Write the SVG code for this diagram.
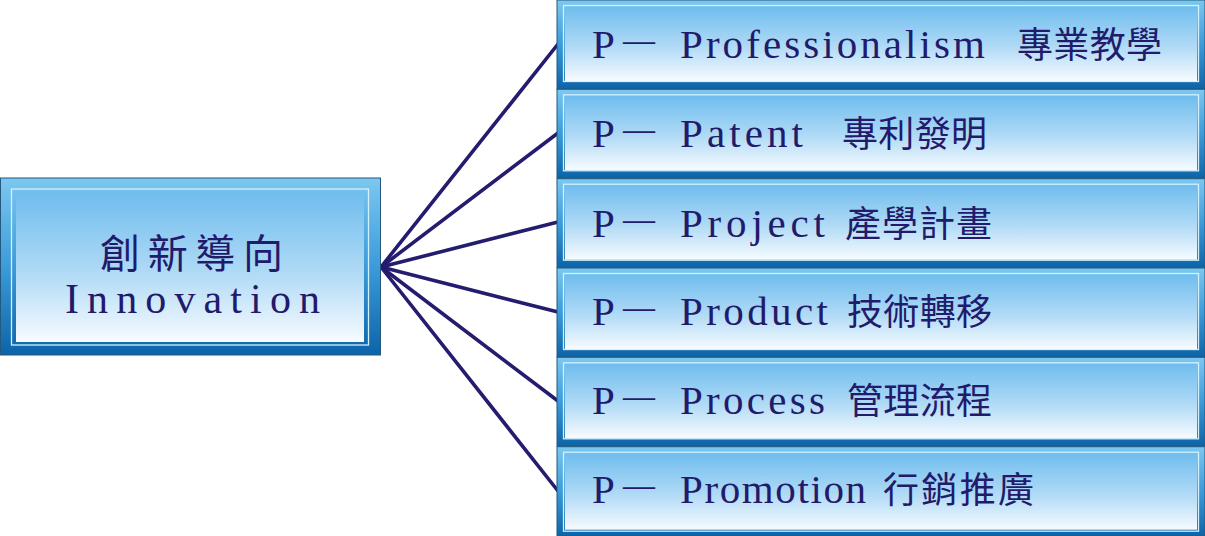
<svg xmlns="http://www.w3.org/2000/svg" width="1205" height="536" viewBox="0 0 1205 536">
<defs>
<linearGradient id="gOuter" x1="0" y1="0" x2="0" y2="1">
<stop offset="0" stop-color="#7cc8f0"/>
<stop offset="0.5" stop-color="#3c9bd9"/>
<stop offset="1" stop-color="#0c64a8"/>
</linearGradient>
<linearGradient id="gInner" x1="0" y1="0" x2="0" y2="1">
<stop offset="0" stop-color="#70bdee"/>
<stop offset="0.55" stop-color="#b2dbf6"/>
<stop offset="1" stop-color="#f7fbff"/>
</linearGradient>
<style>
.outer{fill:url(#gOuter);stroke:#24587e;stroke-width:1}
.hl{fill:none;stroke:#d2f0fd;stroke-width:1.3}
.inner{fill:url(#gInner)}
.lat{font-family:"Liberation Serif",serif;font-size:41px;fill:#221a6a}
.cjk{font-family:"Noto Sans CJK TC","Noto Sans CJK SC",sans-serif;font-size:36px;fill:#221a6a}
.dash{font-family:"Liberation Serif",serif;font-size:36px;fill:#221a6a}
.conn{stroke:#241c6e;stroke-width:3.6;fill:none;stroke-linecap:round}
</style>
</defs>
<rect width="1205" height="536" fill="#ffffff"/>
<g id="connectors">
<line class="conn" x1="381" y1="267" x2="558" y2="44"/>
<line class="conn" x1="381" y1="267" x2="558" y2="133"/>
<line class="conn" x1="381" y1="267" x2="558" y2="222"/>
<line class="conn" x1="381" y1="267" x2="558" y2="312"/>
<line class="conn" x1="381" y1="267" x2="558" y2="401"/>
<line class="conn" x1="381" y1="267" x2="558" y2="491"/>
</g>
<g id="innovation">
<rect class="outer" x="0.5" y="178" width="380" height="177"/>
<rect class="hl" x="11.5" y="189" width="357" height="156"/>
<rect class="inner" x="16" y="193" width="348" height="149"/>
<text class="cjk" x="100" y="268" style="font-size:40px" textLength="183" lengthAdjust="spacing">創新導向</text>
<text class="lat" x="65" y="313" style="font-size:42px" textLength="255" lengthAdjust="spacing">Innovation</text>
</g>
<g id="p1" transform="translate(557,0)">
<rect class="outer" x="0" y="0" width="648" height="89"/>
<rect class="hl" x="6.5" y="5.5" width="635" height="76"/>
<rect class="inner" x="8" y="7" width="632" height="74"/>
<text class="lat" x="35" y="58">P</text>
<text class="dash" x="66" y="52" textLength="32" lengthAdjust="spacingAndGlyphs">—</text>
<text class="lat" x="123" y="58" textLength="305" lengthAdjust="spacing">Professionalism</text>
<text class="cjk" x="460" y="58" textLength="145" lengthAdjust="spacing">專業教學</text>
</g>
<g id="p2" transform="translate(557,89.3)">
<rect class="outer" x="0" y="0" width="648" height="89"/>
<rect class="hl" x="6.5" y="5.5" width="635" height="76"/>
<rect class="inner" x="8" y="7" width="632" height="74"/>
<text class="lat" x="35" y="58">P</text>
<text class="dash" x="66" y="52" textLength="32" lengthAdjust="spacingAndGlyphs">—</text>
<text class="lat" x="123" y="58" textLength="123" lengthAdjust="spacing">Patent</text>
<text class="cjk" x="285" y="58" textLength="145" lengthAdjust="spacing">專利發明</text>
</g>
<g id="p3" transform="translate(557,178.7)">
<rect class="outer" x="0" y="0" width="648" height="89"/>
<rect class="hl" x="6.5" y="5.5" width="635" height="76"/>
<rect class="inner" x="8" y="7" width="632" height="74"/>
<text class="lat" x="35" y="58">P</text>
<text class="dash" x="66" y="52" textLength="32" lengthAdjust="spacingAndGlyphs">—</text>
<text class="lat" x="123" y="58" textLength="145" lengthAdjust="spacing">Project</text>
<text class="cjk" x="288" y="58" textLength="147" lengthAdjust="spacing">產學計畫</text>
</g>
<g id="p4" transform="translate(557,268)">
<rect class="outer" x="0" y="0" width="648" height="89"/>
<rect class="hl" x="6.5" y="5.5" width="635" height="76"/>
<rect class="inner" x="8" y="7" width="632" height="74"/>
<text class="lat" x="35" y="57">P</text>
<text class="dash" x="66" y="51" textLength="32" lengthAdjust="spacingAndGlyphs">—</text>
<text class="lat" x="123" y="57" textLength="148" lengthAdjust="spacing">Product</text>
<text class="cjk" x="290" y="57" textLength="145" lengthAdjust="spacing">技術轉移</text>
</g>
<g id="p5" transform="translate(557,357.3)">
<rect class="outer" x="0" y="0" width="648" height="89"/>
<rect class="hl" x="6.5" y="5.5" width="635" height="76"/>
<rect class="inner" x="8" y="7" width="632" height="74"/>
<text class="lat" x="35" y="57">P</text>
<text class="dash" x="66" y="51" textLength="32" lengthAdjust="spacingAndGlyphs">—</text>
<text class="lat" x="123" y="57" textLength="145" lengthAdjust="spacing">Process</text>
<text class="cjk" x="290" y="57" textLength="145" lengthAdjust="spacing">管理流程</text>
</g>
<g id="p6" transform="translate(557,446.7)">
<rect class="outer" x="0" y="0" width="648" height="89.3"/>
<rect class="hl" x="6.5" y="5.5" width="635" height="79"/>
<rect class="inner" x="8" y="7" width="632" height="76"/>
<text class="lat" x="35" y="56">P</text>
<text class="dash" x="66" y="50" textLength="32" lengthAdjust="spacingAndGlyphs">—</text>
<text class="lat" x="123" y="56" textLength="186" lengthAdjust="spacing">Promotion</text>
<text class="cjk" x="326" y="56" textLength="151" lengthAdjust="spacing">行銷推廣</text>
</g>
</svg>
